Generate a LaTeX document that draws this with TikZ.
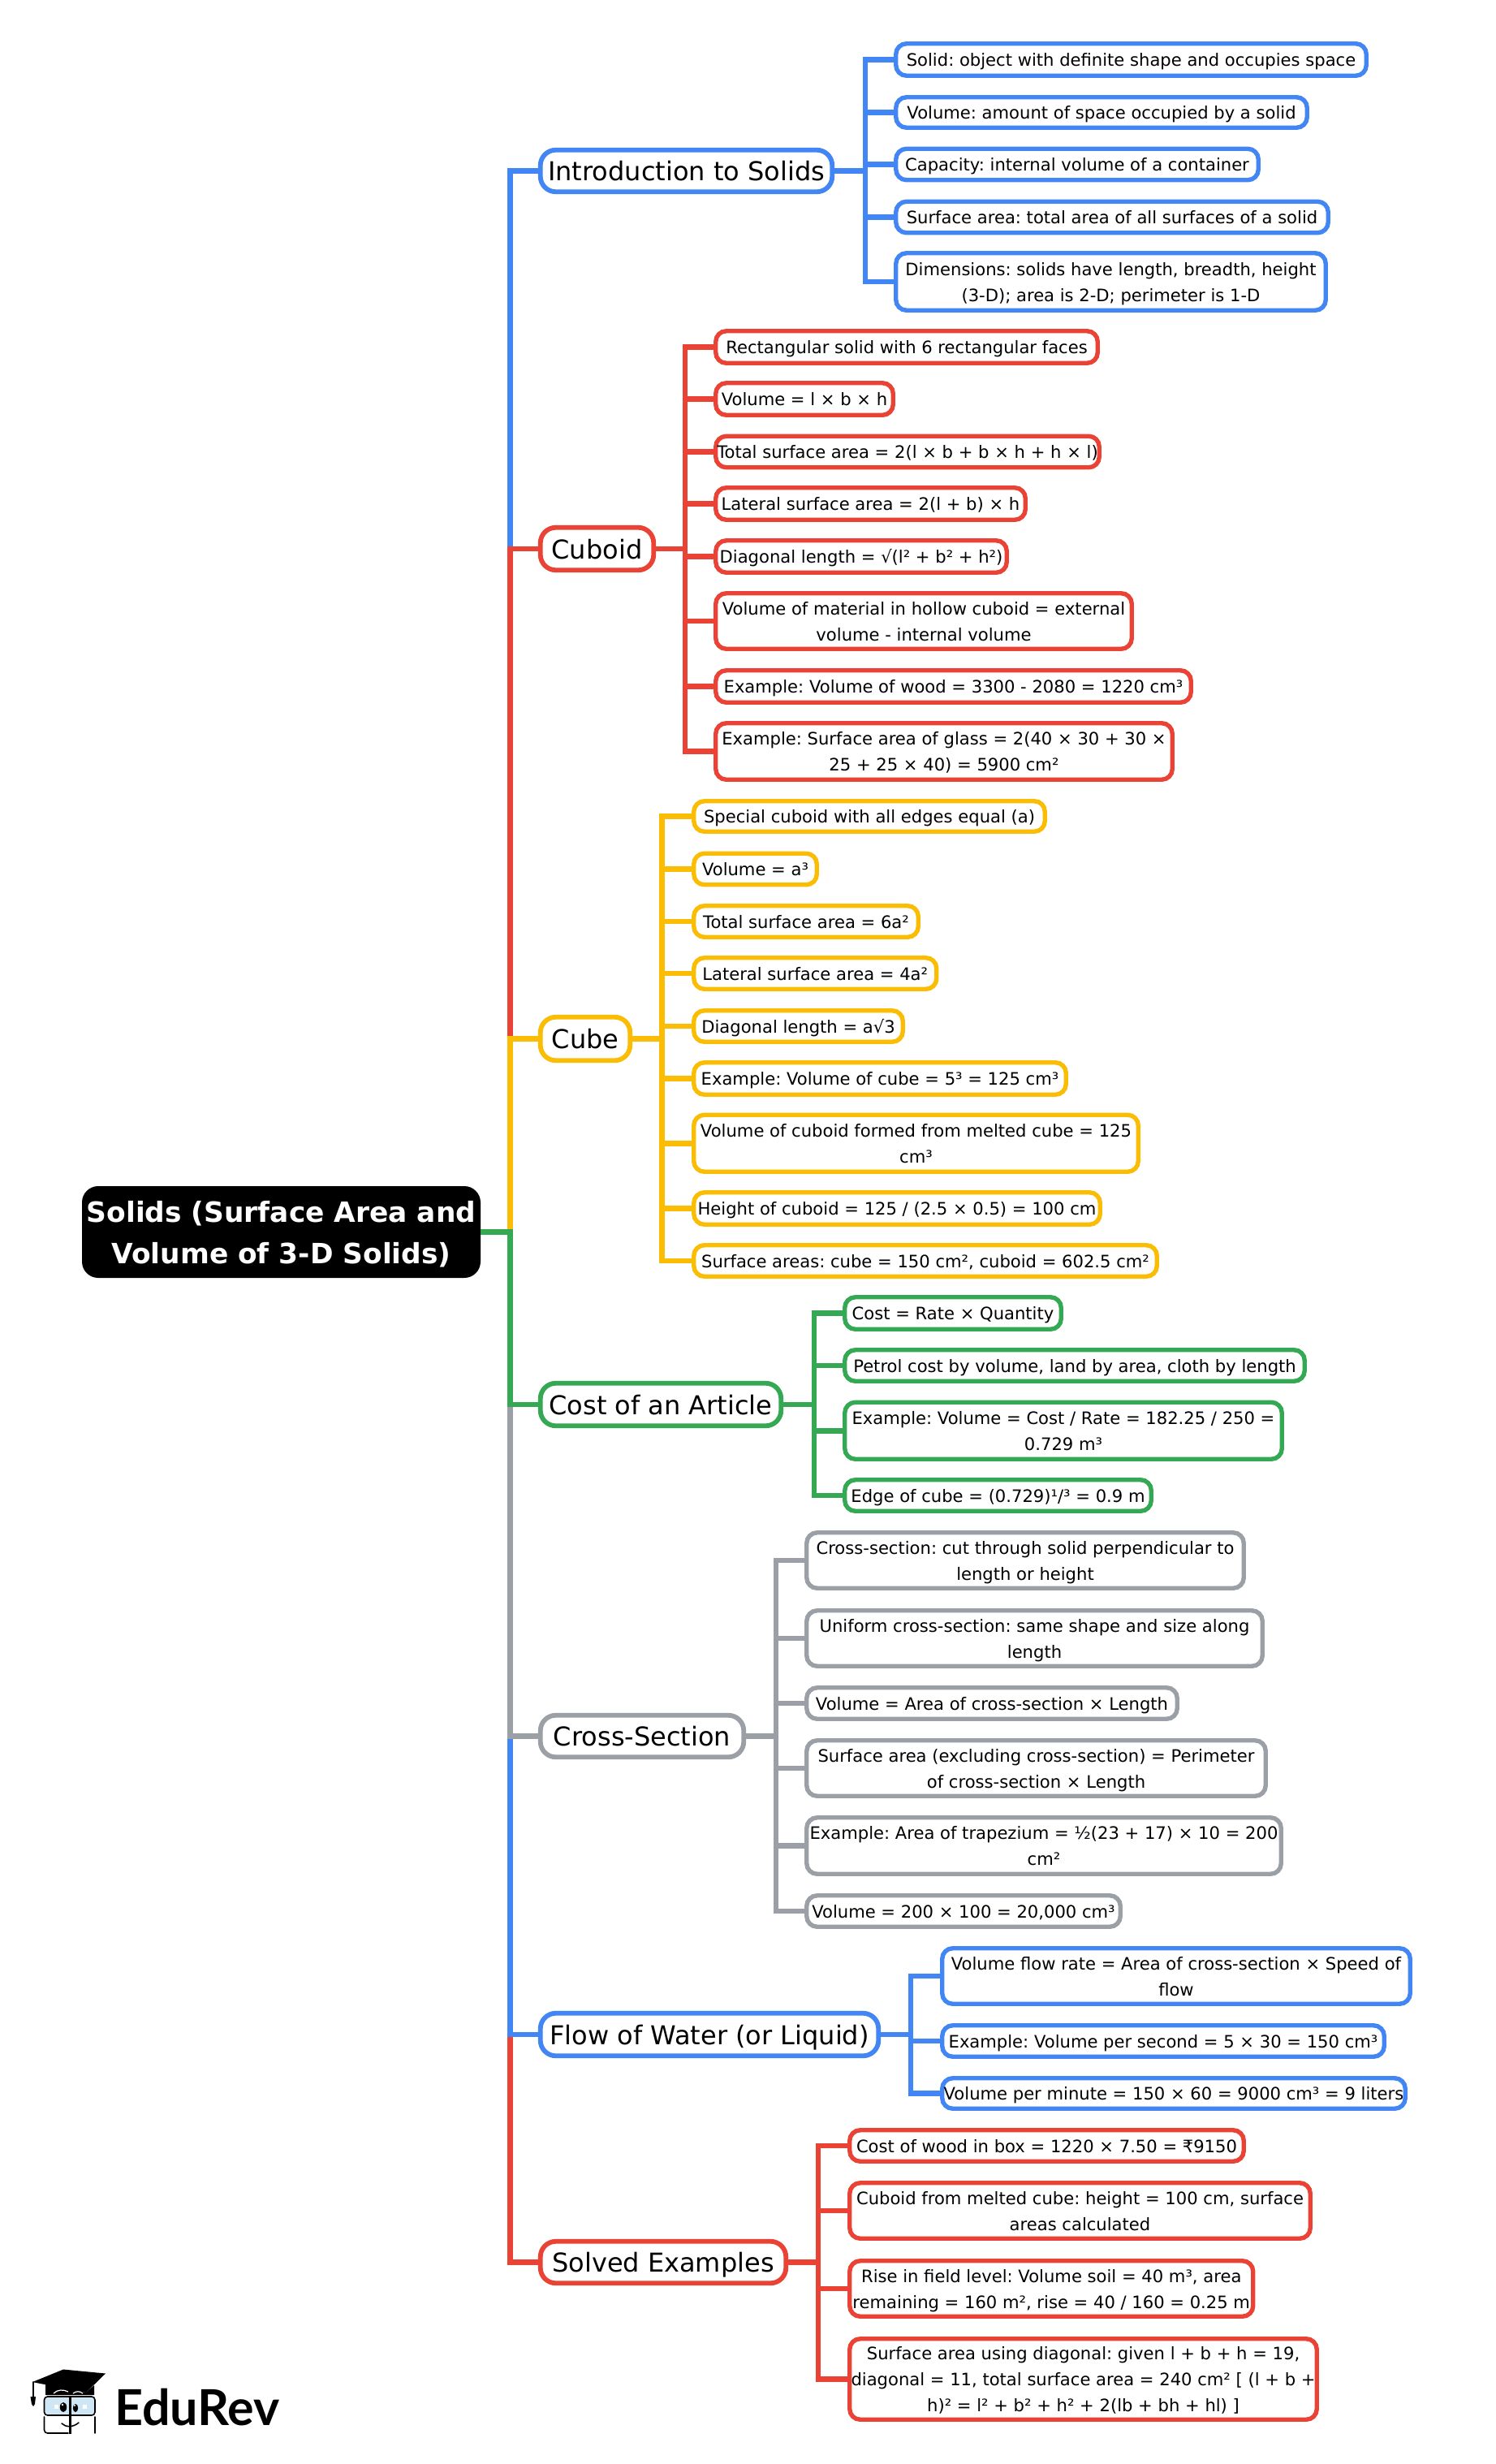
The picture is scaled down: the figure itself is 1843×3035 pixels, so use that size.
\documentclass[tikz,border=0pt]{standalone}
\usepackage{fontspec}
\setmainfont{DejaVu Sans}
\newfontfamily\logofont{Lato}
\usetikzlibrary{calc}
\definecolor{cblue}{HTML}{4285F4}
\definecolor{cred}{HTML}{EA4335}
\definecolor{cyellow}{HTML}{FBBC04}
\definecolor{cgreen}{HTML}{34A853}
\definecolor{cgray}{HTML}{9AA0A6}
\definecolor{lens}{HTML}{CFE6F5}
\frenchspacing
\tikzset{
  anybox/.style={rounded corners=13pt,fill=white,inner sep=0pt,outer sep=0pt,align=center,line width=5.4pt,text=black},
  leafbox/.style={anybox,font=\fontsize{21.1}{32}\selectfont\frenchspacing},
  branchbox/.style={anybox,rounded corners=19pt,line width=5.8pt,font=\fontsize{32}{40}\selectfont},
  rootbox/.style={rounded corners=20pt,fill=black,inner sep=0pt,outer sep=0pt,align=center,text=white,font=\fontsize{34.4}{51}\selectfont\bfseries},
  link/.style={line width=6.6pt},
  logoline/.style={line width=1.6pt,draw=black,line cap=round}
}
\newcommand{\boxstrut}{\rule[-.35em]{0pt}{1.47em}}
\newcommand{\placebox}[8]{%
  \node[#1,draw=#3,minimum width={(#5-#4-3.5)*1pt},minimum height={(#7-#6-5.5)*1pt}] (#2) at ({(#4-2+#5)/2},{(#6+#7)/2}) {\boxstrut #8\boxstrut};}
\newcommand{\joinkids}[4]{%
  \foreach \kid in {#4} {\draw[link,#1] (#2.east) -- (#2.east -| #3) |- (\kid.west);}}
\begin{document}
\begin{tikzpicture}[x=1pt,y=-1pt]
\useasboundingbox (0,0) rectangle (1843,3035);
\fill[white] (0,0) rectangle (1843,3035);
\coordinate (tmain) at (628.5,0);
\coordinate (tintro) at (1066,0);
\coordinate (tcuboid) at (844,0);
\coordinate (tcube) at (815.5,0);
\coordinate (tcost) at (1003,0);
\coordinate (tcross) at (956,0);
\coordinate (tflow) at (1122,0);
\coordinate (tsolved) at (1008,0);

% root
\node[rootbox,minimum width=491pt,minimum height=113pt] (root) at (346.5,1517.5) {\boxstrut Solids (Surface Area and\\Volume of 3-D Solids)\boxstrut};

% branches
\placebox{branchbox}{intro}{cblue}{665}{1028}{182}{239}{Introduction to Solids}
\placebox{branchbox}{cuboid}{cred}{665}{808}{647}{705}{Cuboid}
\placebox{branchbox}{cube}{cyellow}{665}{779}{1250}{1309}{Cube}
\placebox{branchbox}{cost}{cgreen}{665}{965}{1701}{1759}{Cost of an Article}
\placebox{branchbox}{cross}{cgray}{665}{919}{2110}{2167}{Cross-Section}
\placebox{branchbox}{flow}{cblue}{665}{1085}{2477}{2535}{Flow of Water (or Liquid)}
\placebox{branchbox}{solved}{cred}{665}{971}{2758}{2815}{Solved Examples}

% intro leaves
\placebox{leafbox}{ia}{cblue}{1103}{1686}{51}{96}{Solid: object with definite shape and occupies space}
\placebox{leafbox}{ib}{cblue}{1103}{1613}{117}{160}{Volume: amount of space occupied by a solid}
\placebox{leafbox}{ic}{cblue}{1103}{1553}{180.5}{224.5}{Capacity: internal volume of a container}
\placebox{leafbox}{id}{cblue}{1103}{1639}{245.5}{289.5}{Surface area: total area of all surfaces of a solid}
\placebox{leafbox}{ie}{cblue}{1103}{1636}{309}{385}{Dimensions: solids have length, breadth, height\\(3-D); area is 2-D; perimeter is 1-D}

% cuboid leaves
\placebox{leafbox}{ca}{cred}{881}{1355}{405}{450}{Rectangular solid with 6 rectangular faces}
\placebox{leafbox}{cb}{cred}{881}{1103}{469}{514}{Volume = l × b × h}
\placebox{leafbox}{cc}{cred}{881}{1357}{534.5}{578.5}{Total surface area = 2(l × b + b × h + h × l)}
\placebox{leafbox}{cd}{cred}{881}{1266}{598}{643}{Lateral surface area = 2(l + b) × h}
\placebox{leafbox}{ce}{cred}{881}{1243}{663}{708}{Diagonal length = √(l² + b² + h²)}
\placebox{leafbox}{cf}{cred}{881}{1397}{728}{802}{Volume of material in hollow cuboid = external\\volume - internal volume}
\placebox{leafbox}{cg}{cred}{881}{1470}{823}{868}{Example: Volume of wood = 3300 - 2080 = 1220 cm³}
\placebox{leafbox}{ch}{cred}{881}{1447}{888}{963}{Example: Surface area of glass = 2(40 × 30 + 30 ×\\25 + 25 × 40) = 5900 cm²}

% cube leaves
\placebox{leafbox}{qa}{cyellow}{854}{1290}{984}{1027}{Special cuboid with all edges equal (a)}
\placebox{leafbox}{qb}{cyellow}{854}{1009}{1048.5}{1092.5}{Volume = a³}
\placebox{leafbox}{qc}{cyellow}{854}{1134}{1113}{1157}{Total surface area = 6a²}
\placebox{leafbox}{qd}{cyellow}{854}{1156.5}{1177}{1221}{Lateral surface area = 4a²}
\placebox{leafbox}{qe}{cyellow}{854}{1115}{1242}{1286}{Diagonal length = a√3}
\placebox{leafbox}{qf}{cyellow}{854}{1316}{1306}{1351}{Example: Volume of cube = 5³ = 125 cm³}
\placebox{leafbox}{qg}{cyellow}{854}{1405}{1370.5}{1446}{Volume of cuboid formed from melted cube = 125\\cm³}
\placebox{leafbox}{qh}{cyellow}{854}{1358}{1466}{1511}{Height of cuboid = 125 / (2.5 × 0.5) = 100 cm}
\placebox{leafbox}{qi}{cyellow}{854}{1428}{1531}{1575}{Surface areas: cube = 150 cm², cuboid = 602.5 cm²}

% cost leaves
\placebox{leafbox}{ra}{cgreen}{1040}{1310}{1595}{1640}{Cost = Rate × Quantity}
\placebox{leafbox}{rb}{cgreen}{1040}{1610}{1660}{1704}{Petrol cost by volume, land by area, cloth by length}
\placebox{leafbox}{rc}{cgreen}{1040}{1582}{1724.5}{1800}{Example: Volume = Cost / Rate = 182.25 / 250 =\\0.729 m³}
\placebox{leafbox}{rd}{cgreen}{1040}{1421}{1820}{1864}{Edge of cube = (0.729)¹/³ = 0.9 m}

% cross-section leaves
\placebox{leafbox}{sa}{cgray}{993}{1535}{1885}{1959}{Cross-section: cut through solid perpendicular to\\length or height}
\placebox{leafbox}{sb}{cgray}{993}{1558}{1981}{2055}{Uniform cross-section: same shape and size along\\length}
\placebox{leafbox}{sc}{cgray}{993}{1453}{2076}{2120}{Volume = Area of cross-section × Length}
\placebox{leafbox}{sd}{cgray}{993}{1562}{2141}{2215}{Surface area (excluding cross-section) = Perimeter\\of cross-section × Length}
\placebox{leafbox}{se}{cgray}{993}{1581}{2236}{2311}{Example: Area of trapezium = ½(23 + 17) × 10 = 200\\cm²}
\placebox{leafbox}{sf}{cgray}{993}{1383}{2332}{2376}{Volume = 200 × 100 = 20,000 cm³}

% flow leaves
\placebox{leafbox}{fa}{cblue}{1160}{1740}{2397}{2471}{Volume flow rate = Area of cross-section × Speed of\\flow}
\placebox{leafbox}{fb}{cblue}{1160}{1708}{2492}{2536}{Example: Volume per second = 5 × 30 = 150 cm³}
\placebox{leafbox}{fc}{cblue}{1160}{1734}{2557}{2600}{Volume per minute = 150 × 60 = 9000 cm³ = 9 liters}

% solved leaves
\placebox{leafbox}{ea}{cred}{1046}{1535}{2621}{2665}{Cost of wood in box = 1220 × 7.50 = ₹9150}
\placebox{leafbox}{eb}{cred}{1046}{1617}{2686}{2760}{Cuboid from melted cube: height = 100 cm, surface\\areas calculated}
\placebox{leafbox}{ec}{cred}{1046}{1546.5}{2782}{2856}{Rise in field level: Volume soil = 40 m³, area\\remaining = 160 m², rise = 40 / 160 = 0.25 m}
\placebox{leafbox}{ed}{cred}{1046}{1625}{2878}{2983}{Surface area using diagonal: given l + b + h = 19,\\diagonal = 11, total surface area = 240 cm² [ (l + b +\\h)² = l² + b² + h² + 2(lb + bh + hl) ]}

% main connectors (order gives the colour of each trunk segment)
\draw[link,cblue] (root.east) -- (root.east -| tmain) |- (intro.west);
\draw[link,cred] (root.east) -- (root.east -| tmain) |- (cuboid.west);
\draw[link,cyellow] (root.east) -- (root.east -| tmain) |- (cube.west);
\draw[link,cred] (root.east) -- (root.east -| tmain) |- (solved.west);
\draw[link,cblue] (root.east) -- (root.east -| tmain) |- (flow.west);
\draw[link,cgray] (root.east) -- (root.east -| tmain) |- (cross.west);
\draw[link,cgreen] (root.east) -- (root.east -| tmain) |- (cost.west);

% child connectors
\joinkids{cblue}{intro}{tintro}{ia,ib,ic,id,ie}
\joinkids{cred}{cuboid}{tcuboid}{ca,cb,cc,cd,ce,cf,cg,ch}
\joinkids{cyellow}{cube}{tcube}{qa,qb,qc,qd,qe,qf,qg,qh,qi}
\joinkids{cgreen}{cost}{tcost}{ra,rb,rc,rd}
\joinkids{cgray}{cross}{tcross}{sa,sb,sc,sd,se,sf}
\joinkids{cblue}{flow}{tflow}{fa,fb,fc}
\joinkids{cred}{solved}{tsolved}{ea,eb,ec,ed}

% logo
\fill[black] (56,2936) -- (56,2950) -- (116,2950) -- (116,2938) -- (106,2947) -- cycle;
\fill[black] (40,2934) -- (78,2918.5) -- (130,2923.5) -- (106,2947) -- cycle;
\draw[white,line width=1.2pt] (66,2948) .. controls (71,2943) and (78,2943) .. (84,2946);
\draw[white,line width=1.2pt] (90,2948) .. controls (94,2945) and (98,2945) .. (102,2948);
\draw[logoline] (41,2934) -- (41,2952);
\fill[black] (37.5,2952) -- (44,2952) -- (43,2961) -- (41,2964) -- (39,2961) -- cycle;
\draw[logoline,fill=lens,rounded corners=4pt] (54.5,2952) rectangle (117,2975);
\draw[logoline,rounded corners=4pt] (54.5,2977) -- (54.5,2997) -- (84,2997);
\draw[logoline,rounded corners=4pt] (117,2977) -- (117,2997);
\draw[black,line width=2.6pt] (86.5,2951) -- (86.5,2998);
\fill[black] (78,2965) ellipse (4.2pt and 6pt);
\fill[black] (93,2966) ellipse (3.2pt and 5pt);
\fill[white] (77,2962) circle (1.3pt);
\fill[white] (92,2963) circle (1.1pt);
\draw[logoline] (76,2985) .. controls (81,2990) and (90,2990) .. (97,2984);
\foreach \wx in {68,103} {\fill[white] (\wx-1,2962) rectangle (\wx+4,2967);}
\node[font=\fontsize{61}{61}\selectfont\logofont\bfseries,text=black,inner sep=0pt,anchor=base west] (logotext) at (141,2987) {EduRev};
\end{tikzpicture}
\end{document}
